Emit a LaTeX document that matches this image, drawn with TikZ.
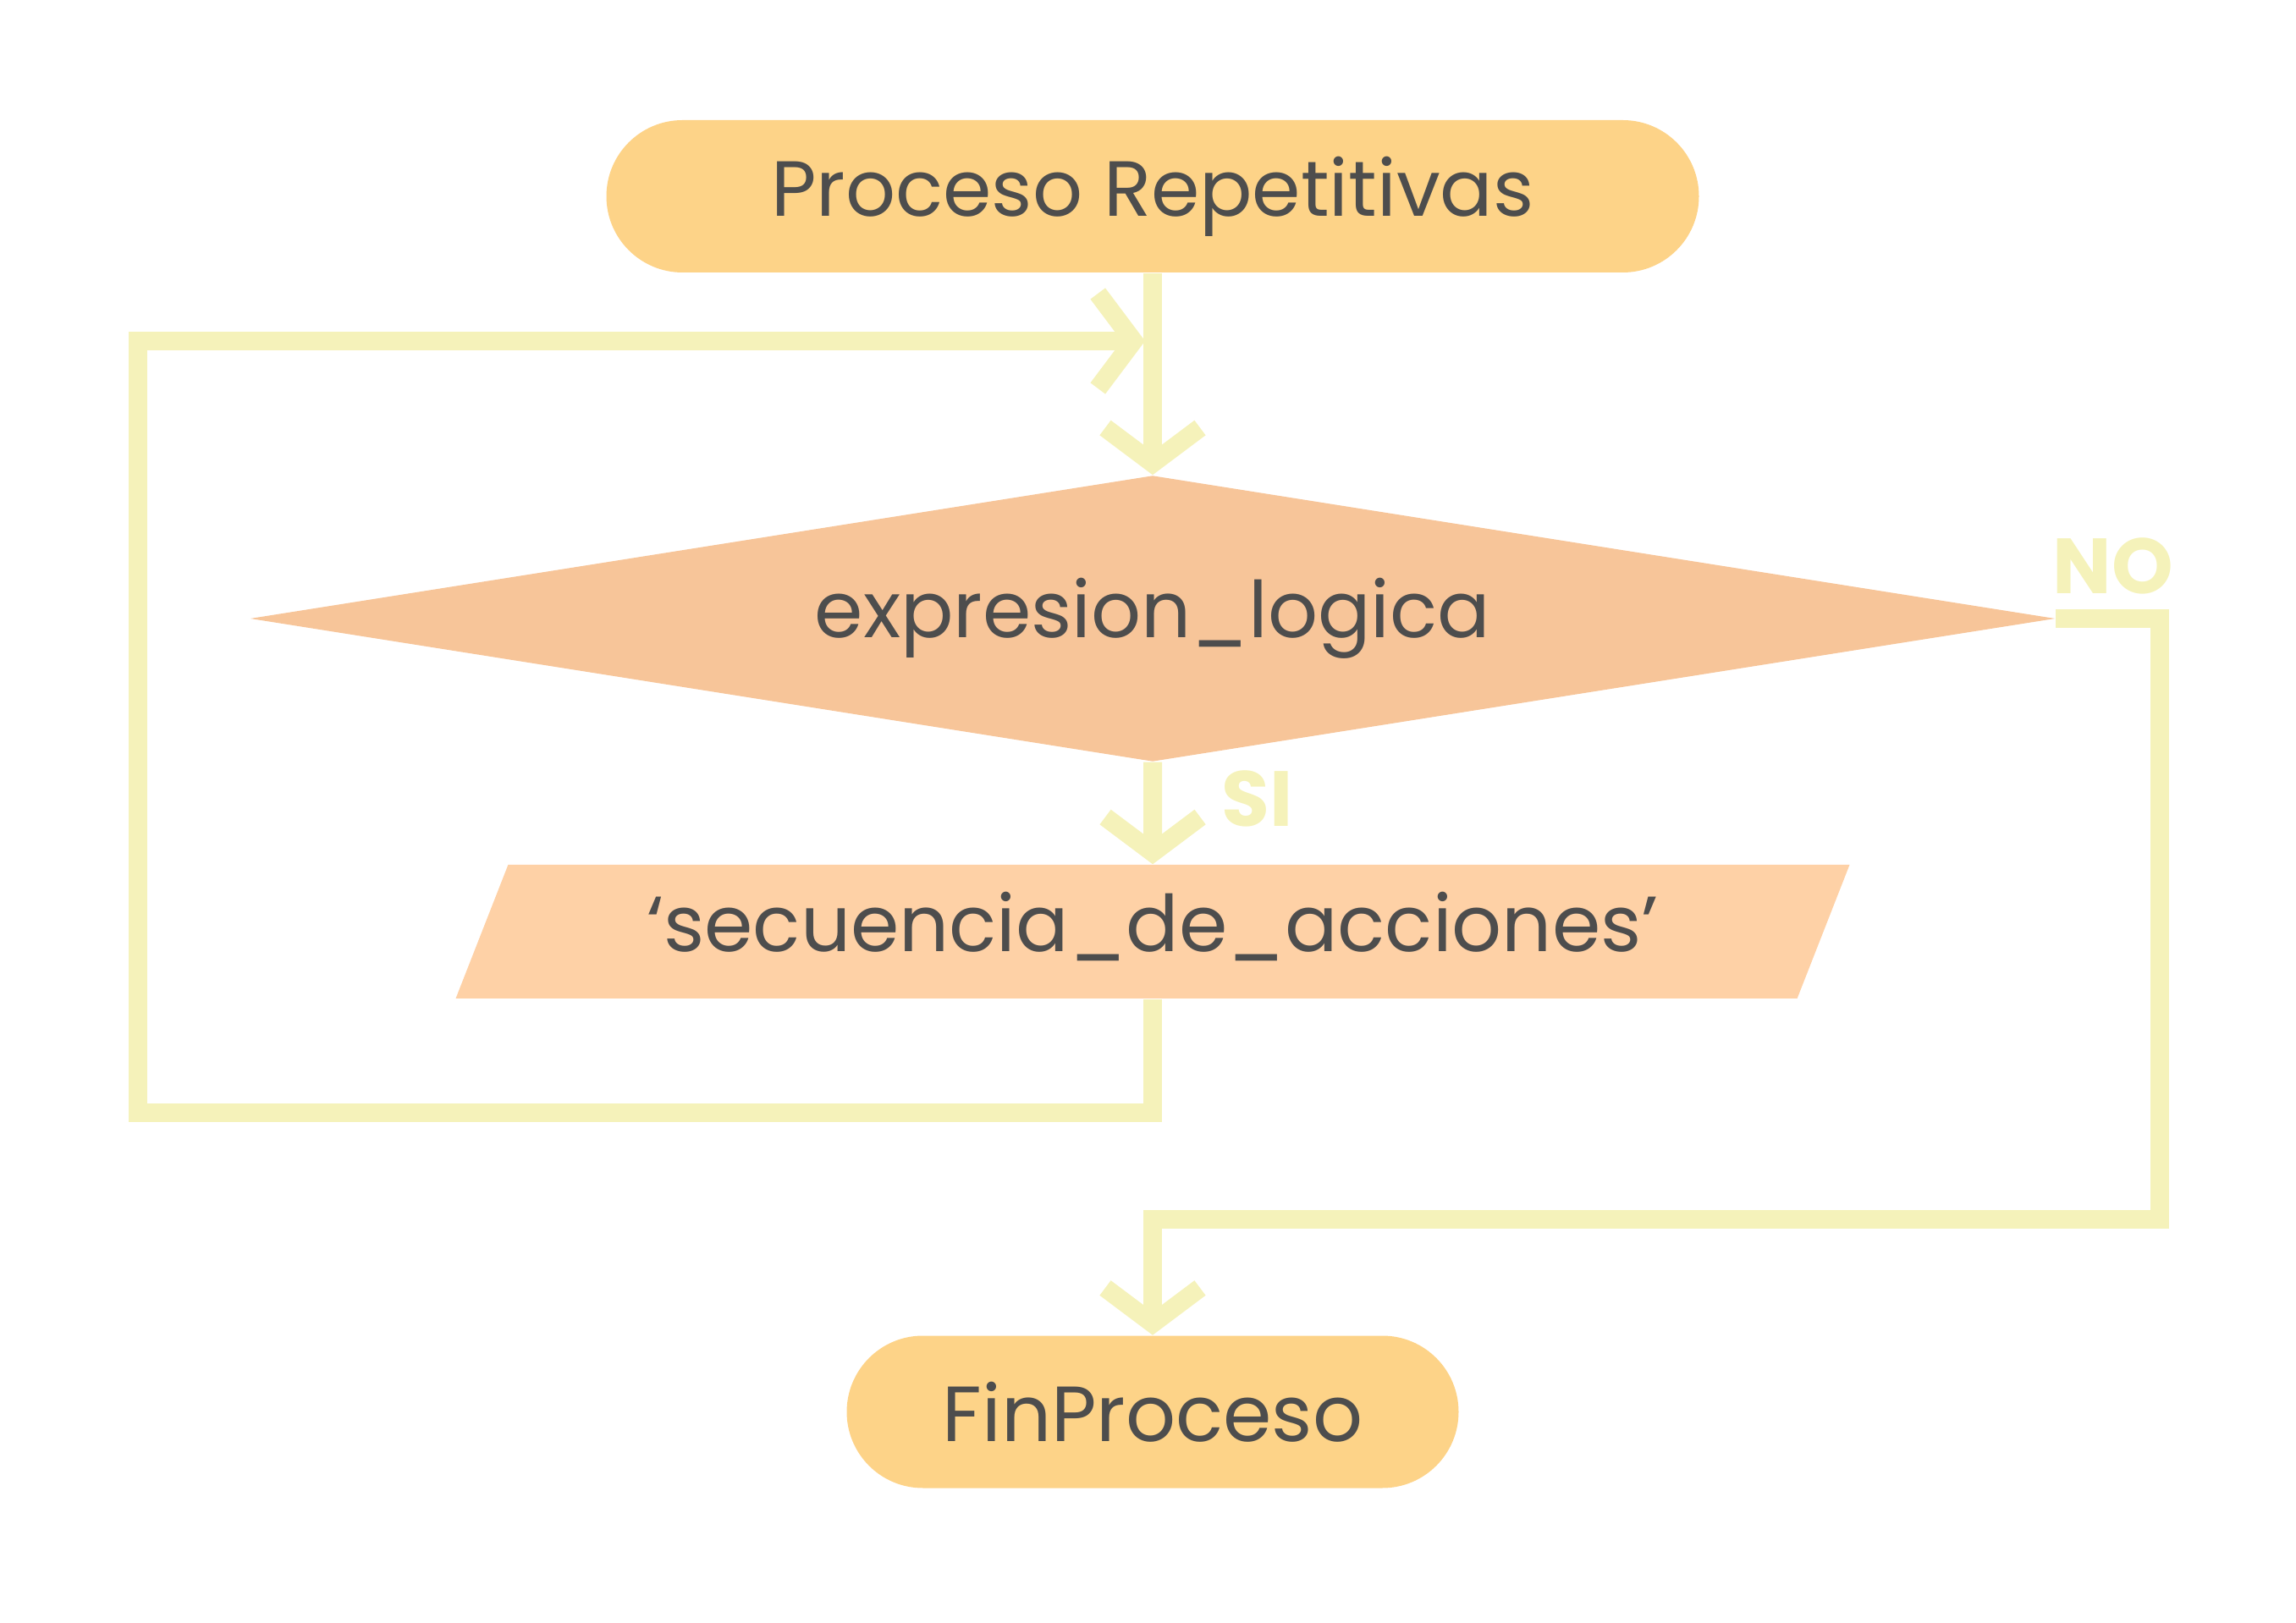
\documentclass[tikz,border=0pt]{standalone}
\usepackage{fontspec}
\setmainfont{Poppins}
\usetikzlibrary{arrows.meta,shapes.geometric}
\definecolor{termcol}{HTML}{FDD388}
\definecolor{deccol}{HTML}{F7C599}
\definecolor{actcol}{HTML}{FED1A6}
\definecolor{linecol}{HTML}{F5F2BA}
\definecolor{txtcol}{HTML}{4D4D4D}
\begin{document}
\begin{tikzpicture}[>={Straight Barb[length=0.42cm,width=1.12cm]},
  flow/.style={draw=linecol, line width=0.22cm},
  txt/.style={text=txtcol, font=\fontsize{26.3}{30}\selectfont, inner sep=0pt},
  term/.style={txt, fill=termcol, rounded corners=0.9cm, minimum height=1.8cm},
  answer/.style={text=linecol, font=\fontsize{26.3}{30}\selectfont\bfseries, inner sep=0pt}]
  \useasboundingbox (0, 0) rectangle (27.13, -19.18);
  \node[term, minimum width=12.91cm] (start) at (13.62, -2.32) {Proceso Repetitivas};
  \node[txt, diamond, aspect=6.31, fill=deccol, minimum width=21.33cm, minimum height=3.38cm] (cond) at (13.62, -7.31) {expresion\_logica};
  \node[txt, trapezium, trapezium left angle=68.6, trapezium right angle=111.4, trapezium stretches body, fill=actcol, minimum width=16.47cm, text height=1.03cm, text depth=0.55cm] (action) at (13.62, -11.01) {‘secuencia\_de\_acciones’};
  \node[term, minimum width=7.23cm] (stop) at (13.62, -16.685) {FinProceso};
  \coordinate (back) at (13.53, -4.03);
  \draw[flow, ->] (start) -- (cond);
  \draw[flow, ->] (cond) -- (action);
  \draw[flow, ->] (action.south) |- (1.63, -13.15) |- (back);
  \draw[flow, ->] (cond.east) -| (25.52, -14.41) -| (stop.north);
  \node[answer] (si) at (14.86, -9.44) {SI};
  \node[answer] (no) at (24.97, -6.69) {NO};
\end{tikzpicture}
\end{document}
